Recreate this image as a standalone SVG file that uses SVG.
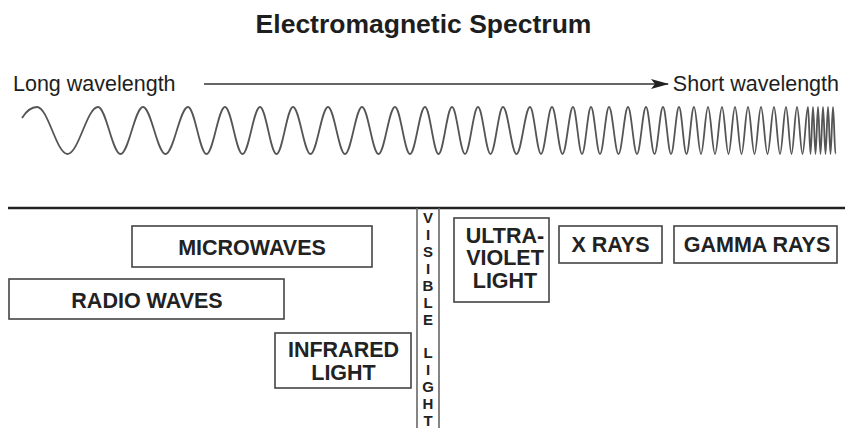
<svg xmlns="http://www.w3.org/2000/svg" width="845" height="428" viewBox="0 0 845 428">
<style>
.t{font-family:"Liberation Sans",Arial,sans-serif;fill:#1e1e1e}
.b{font-weight:bold}
.lbl{font-family:"Liberation Sans",Arial,sans-serif;font-weight:bold;font-size:21.5px;fill:#222;text-anchor:middle}
.vl{font-family:"Liberation Sans",Arial,sans-serif;font-weight:bold;font-size:15px;fill:#222;text-anchor:middle}
.box{fill:#fff;stroke:#444;stroke-width:1.6}
</style>
<defs>
<marker id="ah" viewBox="0 0 18 10" refX="17" refY="5" markerWidth="18" markerHeight="10" markerUnits="userSpaceOnUse" orient="auto">
<path d="M0,0 L18,5 L0,10 L4,5 Z" fill="#222"/>
</marker>
</defs>
<rect width="845" height="428" fill="#fff"/>
<text class="t b" x="423.5" y="33" font-size="26.5" text-anchor="middle">Electromagnetic Spectrum</text>
<text class="t" x="13" y="91" font-size="21.5">Long wavelength</text>
<text class="t" x="839" y="91" font-size="21.5" text-anchor="end">Short wavelength</text>
<g id="connectors">
<line x1="204" y1="84" x2="668" y2="84" stroke="#333" stroke-width="1.6" marker-end="url(#ah)"/>
</g>
<g id="wave">
<path fill="none" stroke="#555" stroke-width="1.8" stroke-linejoin="round" d="M22,118 C27,110 31,107 37,107
C48.08,107 56.42,154 67.5,154 C78.58,154 86.92,107 98,107
C106.18,107 112.32,154 120.5,154 C128.68,154 134.82,107 143,107
C151.18,107 157.32,154 165.5,154 C173.68,154 179.82,107 188,107
C194.72,107 199.78,154 206.5,154 C213.22,154 218.28,107 225,107
C231.36,107 236.14,154 242.5,154 C248.86,154 253.64,107 260,107
C266,107 270.5,154 276.5,154 C282.5,154 287,107 293,107
C299.36,107 304.14,154 310.5,154 C316.86,154 321.64,107 328,107
C334.18,107 338.82,154 345,154 C351.18,154 355.82,107 362,107
C368,107 372.5,154 378.5,154 C384.5,154 389,107 395,107
C400.45,107 404.55,154 410,154 C415.45,154 419.55,107 425,107
C429.91,107 433.59,154 438.5,154 C443.41,154 447.09,107 452,107
C456.72,107 460.28,154 465,154 C469.72,154 473.28,107 478,107
C482.54,107 485.96,154 490.5,154 C495.04,154 498.46,107 503,107
C507.91,107 511.59,154 516.5,154 C521.41,154 525.09,107 530,107
C534,107 537,154 541,154 C545,154 548,107 552,107
C555.82,107 558.68,154 562.5,154 C566.32,154 569.18,107 573,107
C576.27,107 578.73,154 582,154 C585.27,154 587.73,107 591,107
C594.27,107 596.73,154 600,154 C603.27,154 605.73,107 609,107
C612.45,107 615.05,154 618.5,154 C621.95,154 624.55,107 628,107
C631.27,107 633.73,154 637,154 C640.27,154 642.73,107 646,107
C649.09,107 651.41,154 654.5,154 C657.59,154 659.91,107 663,107
C665.91,107 668.09,154 671,154 C673.91,154 676.09,107 679,107
C681.73,107 683.77,154 686.5,154 C689.23,154 691.27,107 694,107
C696.54,107 698.46,154 701,154 C703.54,154 705.46,107 708,107
C710.54,107 712.46,154 715,154 C717.54,154 719.46,107 722,107
C724.36,107 726.14,154 728.5,154 C730.86,154 732.64,107 735,107
C737.36,107 739.14,154 741.5,154 C743.86,154 745.64,107 748,107
C750.36,107 752.14,154 754.5,154 C756.86,154 758.64,107 761,107
C763.36,107 765.14,154 767.5,154 C769.86,154 771.64,107 774,107
C776.18,107 777.82,154 780,154 C782.18,154 783.82,107 786,107
C788,107 789.5,154 791.5,154 C793.5,154 795,107 797,107
C799,107 800.5,154 802.5,154 C804.5,154 806,107 808,107
C808.91,107 809.59,154 810.5,154 C811.41,154 812.09,107 813,107
C813.91,107 814.59,154 815.5,154 C816.41,154 817.09,107 818,107
C818.91,107 819.59,154 820.5,154 C821.41,154 822.09,107 823,107
C823.91,107 824.59,154 825.5,154 C826.41,154 827.09,107 828,107
C828.91,107 829.59,154 830.5,154 C831.41,154 832.09,107 833,107
C833.91,107 834.59,154 835.5,154"/>
</g>
<line x1="8" y1="208" x2="845" y2="208" stroke="#222" stroke-width="2.6"/>
<g id="visible-light">
<line x1="417" y1="208" x2="417" y2="428" stroke="#666" stroke-width="1.6"/>
<line x1="439" y1="208" x2="439" y2="428" stroke="#666" stroke-width="1.6"/>
<text class="vl" x="428" y="223">V</text>
<text class="vl" x="428" y="240">I</text>
<text class="vl" x="428" y="257">S</text>
<text class="vl" x="428" y="274">I</text>
<text class="vl" x="428" y="291">B</text>
<text class="vl" x="428" y="308">L</text>
<text class="vl" x="428" y="325">E</text>
<text class="vl" x="428" y="358">L</text>
<text class="vl" x="428" y="375">I</text>
<text class="vl" x="428" y="392">G</text>
<text class="vl" x="428" y="409">H</text>
<text class="vl" x="428" y="426">T</text>
</g>
<g id="microwaves">
<rect class="box" x="132" y="226" width="240" height="41"/>
<text class="lbl" x="252" y="255">MICROWAVES</text>
</g>
<g id="radio-waves">
<rect class="box" x="9" y="279" width="275" height="40"/>
<text class="lbl" x="147" y="308">RADIO WAVES</text>
</g>
<g id="infrared">
<rect class="box" x="275" y="333" width="136" height="55"/>
<text class="lbl" x="343.5" y="357">INFRARED</text>
<text class="lbl" x="343.5" y="380">LIGHT</text>
</g>
<g id="ultraviolet">
<rect class="box" x="454" y="218" width="95" height="84"/>
<text class="lbl" x="505" y="243">ULTRA-</text>
<text class="lbl" x="505" y="265">VIOLET</text>
<text class="lbl" x="505" y="288">LIGHT</text>
</g>
<g id="x-rays">
<rect class="box" x="559" y="226" width="103" height="37"/>
<text class="lbl" x="610.5" y="252">X RAYS</text>
</g>
<g id="gamma-rays">
<rect class="box" x="674" y="226" width="163" height="37"/>
<text class="lbl" x="757" y="252">GAMMA RAYS</text>
</g>
</svg>
